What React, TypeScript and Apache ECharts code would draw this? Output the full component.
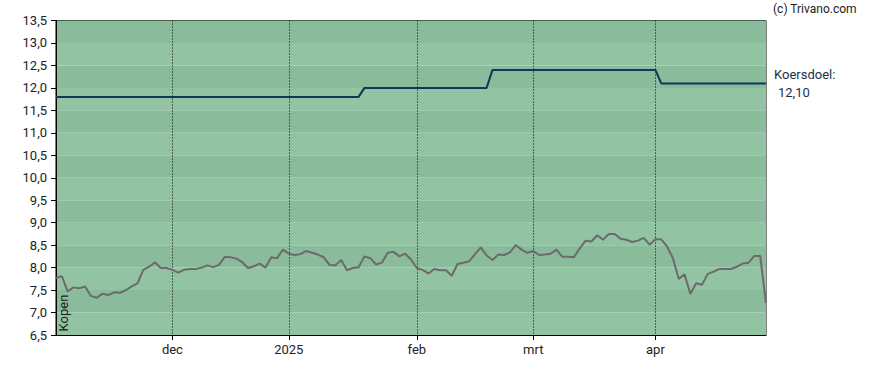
import React, { useEffect, useRef } from "react";
import * as echarts from "echarts";

// Daily closing prices (trading days, early Nov 2024 – end Apr 2025)
const prices: number[] = [
  7.77, 7.81, 7.47, 7.56, 7.54, 7.58, 7.37, 7.33, 7.42, 7.39,
  7.45, 7.44, 7.5, 7.58, 7.65, 7.95, 8.02, 8.12, 7.99, 7.99,
  7.95, 7.89, 7.95, 7.97, 7.97, 8.0, 8.05, 8.01, 8.06, 8.24,
  8.23, 8.2, 8.12, 7.99, 8.03, 8.09, 8.0, 8.23, 8.21, 8.4,
  8.31, 8.28, 8.3, 8.37, 8.33, 8.29, 8.23, 8.06, 8.05, 8.17,
  7.94, 7.99, 8.01, 8.25, 8.21, 8.07, 8.11, 8.33, 8.35, 8.25,
  8.31, 8.18, 7.99, 7.95, 7.87, 7.97, 7.94, 7.94, 7.82, 8.08,
  8.11, 8.14, 8.3, 8.45, 8.27, 8.17, 8.29, 8.28, 8.34, 8.5,
  8.4, 8.33, 8.37, 8.28, 8.29, 8.31, 8.4, 8.24, 8.24, 8.23,
  8.43, 8.6, 8.58, 8.72, 8.62, 8.75, 8.75, 8.64, 8.62, 8.57,
  8.6, 8.66, 8.51, 8.63, 8.63, 8.47, 8.21, 7.75, 7.85, 7.42,
  7.65, 7.62, 7.86, 7.91, 7.97, 7.97, 7.97, 8.02, 8.09, 8.11,
  8.26, 8.26, 7.21,
];

// Price target (koersdoel) change points: [trading-day index, value]
const targetPoints: [number, number][] = [
  [0, 11.8], [52, 11.8], [53, 12.0], [74, 12.0],
  [75, 12.4], [103, 12.4], [104, 12.1], [122, 12.1],
];

// Month boundaries on the trading-day axis
const monthTickIndex: number[] = [20, 40, 62, 82, 103];
const monthTickLabel: string[] = ["dec", "2025", "feb", "mrt", "apr"];

const categories: string[] = prices.map((_, i) => String(i));

const FONT = "Roboto, 'DejaVu Sans', sans-serif";

export default function App() {
  const ref = useRef<HTMLDivElement>(null);

  useEffect(() => {
    if (!ref.current) return;
    const chart = echarts.init(ref.current, undefined, { renderer: "svg" });
    const tickSet = new Set(monthTickIndex);
    const labelMap: Record<string, string> = {};
    monthTickIndex.forEach((idx, k) => {
      labelMap[String(idx)] = monthTickLabel[k];
    });
    const isTick = (index: number) => tickSet.has(index);

    chart.setOption({
      animation: false,
      grid: {
        left: 56,
        right: 122,
        top: 20.5,
        bottom: 35,
        show: true,
        borderColor: "#000",
        borderWidth: 1,
        backgroundColor: "transparent",
      },
      xAxis: {
        type: "category",
        data: categories,
        boundaryGap: false,
        axisLine: { show: true, lineStyle: { color: "#000", width: 1 } },
        axisTick: {
          show: true,
          interval: (index: number) => isTick(index),
          length: 5,
          lineStyle: { color: "#000" },
        },
        axisLabel: {
          interval: (index: number) => isTick(index),
          formatter: (value: string) => labelMap[value] ?? "",
          color: "#222",
          fontFamily: FONT,
          fontSize: 13,
          margin: 8,
        },
        splitLine: {
          show: true,
          interval: (index: number) => isTick(index),
          lineStyle: { color: "#000", type: [1, 2], width: 1 },
        },
      },
      yAxis: {
        type: "value",
        min: 6.5,
        max: 13.5,
        interval: 0.5,
        axisLine: { show: true, lineStyle: { color: "#000", width: 1 } },
        axisTick: { show: true, length: 5, lineStyle: { color: "#000" } },
        axisLabel: {
          formatter: (v: number) => v.toFixed(1).replace(".", ","),
          color: "#222",
          fontFamily: FONT,
          fontSize: 13,
          margin: 9,
        },
        splitLine: { show: false },
        splitArea: {
          show: true,
          areaStyle: { color: ["#92c3a2", "#8abb9b"] },
        },
      },
      series: [
        {
          name: "Koers",
          type: "line",
          data: prices,
          showSymbol: false,
          symbol: "none",
          lineStyle: { color: "#6b6b6b", width: 2 },
          z: 3,
        },
        {
          name: "Koersdoel",
          type: "line",
          data: targetPoints,
          showSymbol: false,
          symbol: "none",
          lineStyle: { color: "#0d3858", width: 2 },
          z: 4,
        },
      ],
      graphic: [
        {
          type: "text",
          x: 773,
          y: 9,
          style: {
            text: "(c) Trivano.com",
            fill: "#222",
            font: `12px ${FONT}`,
            textAlign: "left",
            textVerticalAlign: "middle",
          },
        },
        {
          type: "text",
          x: 774,
          y: 74,
          style: {
            text: "Koersdoel:",
            fill: "#1d2f45",
            font: `13px ${FONT}`,
            textAlign: "left",
            textVerticalAlign: "middle",
          },
        },
        {
          type: "text",
          x: 778,
          y: 92.5,
          style: {
            text: "12,10",
            fill: "#1d2f45",
            font: `13px ${FONT}`,
            textAlign: "left",
            textVerticalAlign: "middle",
          },
        },
        {
          type: "text",
          x: 63,
          y: 313,
          rotation: Math.PI / 2,
          z: 10,
          style: {
            text: "Kopen",
            fill: "#222",
            font: `13px ${FONT}`,
            textAlign: "center",
            textVerticalAlign: "middle",
          },
        },
      ],
    });

    return () => chart.dispose();
  }, []);

  return (
    <div
      ref={ref}
      style={{ position: "absolute", left: 0, top: 0, width: 888, height: 370 }}
    />
  );
}
